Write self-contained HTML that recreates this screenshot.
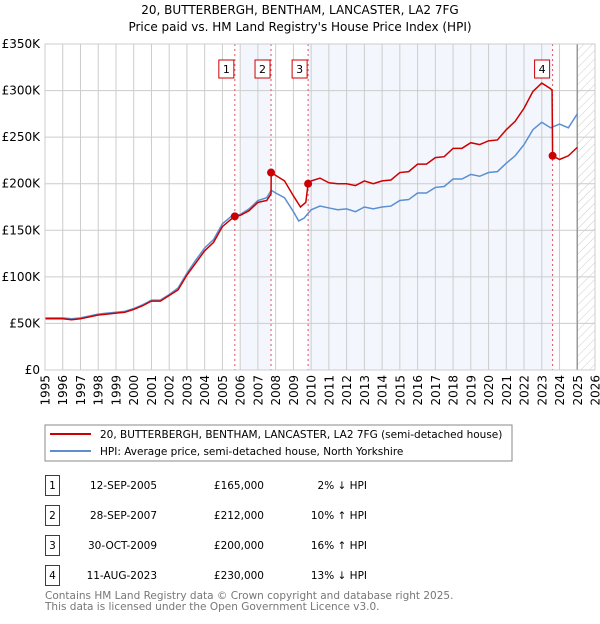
<!DOCTYPE html>
<html><head><meta charset="utf-8"><style>
body{margin:0;background:#fff;font-family:"DejaVu Sans","Liberation Sans",sans-serif;}
svg text{font-family:"DejaVu Sans","Liberation Sans",sans-serif;}
</style></head><body>
<svg id="c" width="600" height="620" xmlns="http://www.w3.org/2000/svg">
<defs><pattern id="hatch" width="6" height="6" patternUnits="userSpaceOnUse" patternTransform="rotate(45)"><line x1="0" y1="0" x2="0" y2="6" stroke="#ccc" stroke-width="1"/></pattern></defs>
<text x="300" y="14" text-anchor="middle" font-size="12">20, BUTTERBERGH, BENTHAM, LANCASTER, LA2 7FG</text>
<text x="300" y="31" text-anchor="middle" font-size="12">Price paid vs. HM Land Registry's House Price Index (HPI)</text>
<g id="plot"></g>
<rect x="45" y="425" width="467" height="36" fill="#fff" stroke="#888"/>
<line x1="50" y1="434" x2="91" y2="434" stroke="#cc0000" stroke-width="2"/>
<text x="100" y="438" font-size="10.5">20, BUTTERBERGH, BENTHAM, LANCASTER, LA2 7FG (semi-detached house)</text>
<line x1="50" y1="451" x2="91" y2="451" stroke="#5b8fd1" stroke-width="2"/>
<text x="100" y="455" font-size="10.5">HPI: Average price, semi-detached house, North Yorkshire</text>
<g id="tbl"></g>
<text x="45" y="599" font-size="10.5" fill="#777">Contains HM Land Registry data © Crown copyright and database right 2025.</text>
<text x="45" y="610" font-size="10.5" fill="#777">This data is licensed under the Open Government Licence v3.0.</text>
</svg>
<script>
const hpiYears=[1995,1995.5,1996,1996.5,1997,1997.5,1998,1998.5,1999,1999.5,2000,2000.5,2001,2001.5,2002,2002.5,2003,2003.5,2004,2004.5,2005,2005.5,2006,2006.5,2007,2007.5,2007.75,2008,2008.5,2009,2009.3,2009.6,2010,2010.5,2011,2011.5,2012,2012.5,2013,2013.5,2014,2014.5,2015,2015.5,2016,2016.5,2017,2017.5,2018,2018.5,2019,2019.5,2020,2020.5,2021,2021.5,2022,2022.5,2023,2023.5,2024,2024.5,2025];
const hpiValues=[56,56,56,55,56,58,60,61,62,63,66,70,75,75,81,88,104,118,131,140,157,165,167,173,182,185,193,190,185,170,160,163,172,176,174,172,173,170,175,173,175,176,182,183,190,190,196,197,205,205,210,208,212,213,222,230,242,258,266,260,264,260,275];
const ppYears=[1995,1995.5,1996,1996.5,1997,1997.5,1998,1998.5,1999,1999.5,2000,2000.5,2001,2001.5,2002,2002.5,2003,2003.5,2004,2004.5,2005,2005.5,2005.7,2006,2006.5,2007,2007.5,2007.74,2007.75,2008,2008.5,2009,2009.4,2009.7,2009.83,2010,2010.5,2011,2011.5,2012,2012.5,2013,2013.5,2014,2014.5,2015,2015.5,2016,2016.5,2017,2017.5,2018,2018.5,2019,2019.5,2020,2020.5,2021,2021.5,2022,2022.5,2023,2023.5,2023.58,2023.61,2024,2024.5,2025];
const ppValues=[55,55,55,54,55,57,59,60,61,62,65,69,74,74,80,86,102,115,128,137,154,162,165,166,171,180,182,189,212,209,203,187,175,180,200,203,206,201,200,200,198,203,200,203,204,212,213,221,221,228,229,238,238,244,242,246,247,258,267,281,299,308,302,300,230,226,230,239];
const salesYears=[2005.7,2007.74,2009.83,2023.61];
const salesValues=[165,212,200,230];
const salesLabels=["1","2","3","4"];
const salesDates=["12-SEP-2005","28-SEP-2007","30-OCT-2009","11-AUG-2023"];
const salesPrices=["£165,000","£212,000","£200,000","£230,000"];
const salesHpi=["2% ↓ HPI","10% ↑ HPI","16% ↑ HPI","13% ↓ HPI"];
const yTicks=[0,50,100,150,200,250,300,350];
const yTickLabels=["£0","£50K","£100K","£150K","£200K","£250K","£300K","£350K"];
const xTicks=[1995,1996,1997,1998,1999,2000,2001,2002,2003,2004,2005,2006,2007,2008,2009,2010,2011,2012,2013,2014,2015,2016,2017,2018,2019,2020,2021,2022,2023,2024,2025,2026];

const NS="http://www.w3.org/2000/svg";
const L=45,R=595,T=44,B=370;
const xs=y=>L+(y-1995)/(2026-1995)*(R-L);
const ys=v=>B-v/350*(B-T);
const plot=document.getElementById('plot');
function el(tag,attrs,parent){const e=document.createElementNS(NS,tag);for(const k in attrs)e.setAttribute(k,attrs[k]);(parent||plot).appendChild(e);return e;}

let e;
e=el('rect',{x:xs(2006),y:T,width:xs(salesYears[1])-xs(2006),height:B-T,fill:'#eef3fc',opacity:0.7});


e=el('rect',{x:xs(salesYears[2]),y:T,width:xs(salesYears[3])-xs(salesYears[2]),height:B-T,fill:'#eef3fc',opacity:0.7});


e=el('rect',{x:xs(2025),y:T,width:R-xs(2025),height:B-T,fill:'url(#hatch)'});



xTicks.forEach((t,i)=>{
 e=el('line',{x1:xs(t),x2:xs(t),y1:T,y2:B,stroke:'#ccc','stroke-width':1});
 
 
 const tx=xs(t)+4.5, ty=375;
 e=el('text',{x:tx,y:ty,'text-anchor':'end','font-size':12,transform:'rotate(-90 '+tx+' '+ty+')'});
 e.textContent=t;
 
 
});
yTicks.forEach((t,i)=>{
 e=el('line',{x1:L,x2:R,y1:ys(t),y2:ys(t),stroke:'#ccc','stroke-width':1});
 
 
 e=el('text',{x:40,y:ys(t)+4,'text-anchor':'end','font-size':12});
 e.textContent=yTickLabels[i];
 
 
});
e=el('line',{x1:xs(2025),x2:xs(2025),y1:T,y2:B,stroke:'#999','stroke-width':1.5});



salesYears.forEach((y,i)=>{
 e=el('line',{x1:xs(y),x2:xs(y),y1:T,y2:B,stroke:'#e05060','stroke-width':1,'stroke-dasharray':'2,3'});
 
 
});

e=el('polyline',{points:hpiYears.map((y,i)=>xs(y)+','+ys(hpiValues[i])).join(' '),fill:'none',stroke:'#5b8fd1','stroke-width':1.5});


e=el('polyline',{points:ppYears.map((y,i)=>xs(y)+','+ys(ppValues[i])).join(' '),fill:'none',stroke:'#cc0000','stroke-width':1.5});



salesYears.forEach((y,i)=>{
 e=el('circle',{cx:xs(y),cy:ys(salesValues[i]),r:4,fill:'#cc0000'});
 
 
 const bx=xs(y)-(i==3?11:9);
 e=el('rect',{x:bx-7,y:60,width:15,height:18,fill:'#fff',stroke:'#cc0000'});
 
 
 e=el('text',{x:bx+0.5,y:73,'text-anchor':'middle','font-size':11});
 e.textContent=salesLabels[i];
 
 
});
e=el('rect',{x:L,y:T,width:R-L,height:B-T,fill:'none',stroke:'#ccc'});



const tbl=document.getElementById('tbl');
salesLabels.forEach((lab,i)=>{
 const y0=475+i*30;
 e=el('rect',{x:45.5,y:y0+0.5,width:14,height:20,fill:'#fff',stroke:'#cc0000'},tbl);
 
 
 e=el('text',{x:52.5,y:y0+14,'text-anchor':'middle','font-size':10.5},tbl);
 e.textContent=lab;
 
 
 e=el('text',{x:157,y:y0+14,'text-anchor':'end','font-size':10.5},tbl);
 e.textContent=salesDates[i];
 
 
 e=el('text',{x:264,y:y0+14,'text-anchor':'end','font-size':10.5},tbl);
 e.textContent=salesPrices[i];
 
 
 e=el('text',{x:367,y:y0+14,'text-anchor':'end','font-size':10.5},tbl);
 e.textContent=salesHpi[i];
 
 
});
</script>
</body></html>
